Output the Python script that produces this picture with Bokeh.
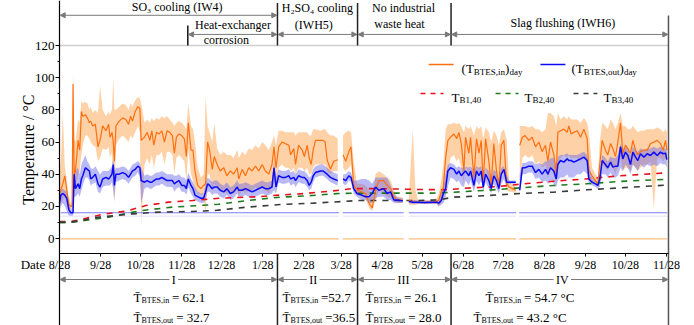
import math
from bokeh.plotting import figure
from bokeh.models import (Range1d, FixedTicker, LinearAxis, Label, Arrow,
                          NormalHead)
from bokeh.embed import file_html
from bokeh.resources import INLINE

nan = float("nan")
FONT = "Liberation Serif"

# ------------------------------------------------------------------ data
# days since 8/28 (first year)
days = [0, 1, 2.5, 4, 5.5, 7, 8.5, 9.5, 10.2, 11,
        12, 14, 15.2, 16.5, 17.5, 19.5, 21, 22.5, 23.5, 25,
        27, 29, 30.5, 32.5, 35, 37, 38, 39.5, 40.5, 41.3,
        42.5, 45, 47.5, 50, 52, 53.5, 55, 57, 59, 60.5,
        61.5, 64, 66, 68, 69.5, 71, 73, 75, 77, 79,
        81, 83, 85, 86.5, 88, 90, 92, 94, 95.5, 97,
        99, 100.5, 102, 104, 106.5, 108.5, 110, 111.5, 113, 115,
        116.5, 118.7, 121, 123.7, 126, 128.7, 131, 133.8, 135, 137.5,
        140, 142.5, 145, 147.6, 150, 152.6, 155, 157.6, 160, 161.5,
        163, 165, 167.5, 170, 172.7, 174, 176.4, 177.7, 180, 182.7,
        184.4, 186.5, 188, 189.5, 191, 192.7, 196.5, 198.5, 200, 201.5,
        204, 206.5, 209.5, 211, 213.5, 215.5, 217.8, 219.5, 221.5, 224,
        227.5, 230.5, 233, 235.4, 238, 240.4, 244, 246.7, 249.3, 251.7,
        254, 256.7, 258.5, 260.5, 263, 266, 268, 270, 275, 280,
        284, 285.6, 287.4, 289, 290.7, 292.4, 294.4, 297, 299, 300.7,
        302.5, 304.5, 305.7, 308.2, 309.5, 312, 314, 315.8, 317.5, 319,
        320.8, 323.3, 325, 327, 329, 330.8, 332.6, 334.6, 336.6, 338.5,
        341, 343.5, 345, 346.5, 348.5, 350.5, 353.4, 355.9, 358.4, 360.9,
        363.4, 365.9, 367.7, 369.7, 372.2, 374, 375.2, 377.2, 379.7, 382.2,
        383.5, 385.2, 387.2, 389.8, 392.3, 394.8, 397.3, 398.5, 401, 403.6,
        405.3, 406.8, 408.6, 411, 412.8, 414.9, 416.6, 418.6, 420.4, 422.4,
        424.1, 426.1, 427.9, 429.9, 431.7, 433.7, 435.4, 437.4, 440, 442.5,
        445, 447.5, 450, 452.5, 454.5, 456.3, 457.3]

# (T_BTES,in)_day and its daily range
t_in = [28, 30, 34, 39, 30, 21, 20, 20, 96, 40,
        42, 61, 55, 79, 76, 77, 75, 72, 73, 70,
        71, 57, 61, 70, 67, 71, 63, 66, 60, 48,
        70, 73, 75, 74, 71, 76, 73, 79, 82, 81,
        61, 63, 66, 61, 67, 58, 66, 65, 67, 60,
        67, 66, 64, 53, 63, 65, 64, 62, 51, 72,
        55, 55, 42, 33, 31, 33, 34, 60, 55, 43,
        51, 46, 42, 44, 39, 42, 40, 44, 37, 43,
        39, 44, 42, 45, 42, 46, 42, 40, 46, 57,
        44, 57, 60, 59, 58, 52, 56, 46, 58, 55,
        51, 58, 50, 46, 55, 61, 61, 61, 60, 49,
        43, 48, 49, nan, 52, 48, 54, 57, 33, 30,
        29, 28, 22, 19, 30, 36, 36, 33, 31, 26,
        24, 24, 23.5, nan, 23.5, 23, 22.8, 22.6, 22.5, 22.6,
        23, 24, 29, 32, 50, 61, 63, 65, 62, 66,
        59, 42, 63, 53, 63, 38, 62, 53, 61, 34,
        62, 48, 33, 59, 42, 33, 58, 61, 34, 32,
        31, 30, nan, 58, 63, 64, 61, 63, 57, 60,
        54, 58, 48, 60, 52, 40, 66, 67, 68, 66,
        70, 65, 66, 67, 63, 68, 62, 42, 39, 36,
        34, 46, 61, 55, 52, 59, 56, 51, 60, 72,
        53, 58, 56, 53, 61, 55, 52, 54, 55, 55,
        59, 60, 61, 59, 55, 61, 55]
t_in_lo = [20, 22, 24, 26, 22, 18, 18, 18, 20, 30,
           32, 40, 42, 52, 58, 64, 64, 62, 60, 58,
           57, 48, 50, 56, 55, 57, 50, 54, 30, 22,
           58, 62, 64, 62, 60, 64, 62, 66, 70, 66,
           8, 46, 50, 46, 52, 44, 52, 52, 54, 46,
           54, 54, 52, 40, 50, 52, 50, 48, 36, 55,
           40, 36, 30, 28, 27, 28, 14, 40, 40, 30,
           34, 32, 30, 30, 28, 28, 28, 30, 26, 30,
           28, 30, 30, 32, 30, 32, 30, 28, 32, 36,
           34, 44, 46, 44, 44, 42, 44, 40, 44, 44,
           42, 44, 40, 40, 44, 46, 46, 46, 46, 42,
           40, 42, 42, nan, 44, 42, 44, 46, 30, 27,
           26, 25, 19, 17, 24, 30, 28, 26, 25, 24,
           22, 22, 22, nan, 21, 21, 21, 21.5, 21.5, 21.5,
           21.5, 20, 22, 24, 30, 40, 50, 52, 48, 50,
           44, 34, 46, 40, 46, 30, 44, 40, 44, 30,
           44, 36, 29, 40, 34, 29, 40, 44, 30, 29,
           29, 28, nan, 30, 50, 52, 50, 52, 46, 48,
           44, 46, 38, 44, 40, 34, 46, 50, 52, 50,
           52, 50, 50, 50, 48, 52, 46, 36, 35, 34,
           32, 34, 46, 44, 42, 46, 44, 40, 46, 50,
           42, 44, 44, 42, 46, 44, 42, 44, 46, 46,
           48, 18, 50, 50, 48, 50, 48]
t_in_hi = [40, 48, 78, 45, 36, 26, 22, 22, 104, 62,
           60, 74, 72, 86, 84, 85, 84, 80, 82, 78,
           80, 78, 95, 80, 76, 79, 77, 80, 100, 80,
           80, 82, 84, 83, 80, 84, 82, 86, 88, 87,
           84, 72, 74, 72, 75, 73, 75, 74, 76, 75,
           76, 74, 72, 70, 72, 73, 72, 70, 68, 84,
           70, 68, 60, 44, 38, 40, 88, 70, 66, 60,
           72, 56, 52, 54, 52, 52, 50, 55, 50, 54,
           52, 56, 55, 58, 56, 60, 58, 55, 60, 64,
           58, 67, 67, 66, 66, 66, 66, 64, 66, 66,
           66, 66, 64, 64, 68, 68, 67, 68, 68, 66,
           64, 64, 62, nan, 64, 66, 67, 66, 48, 34,
           34, 33, 30, 26, 40, 42, 40, 38, 36, 30,
           26, 26, 25, nan, 26, 68, 30, 24, 24, 24,
           25, 28, 36, 46, 68, 71, 71, 72, 71, 72,
           70, 66, 70, 68, 70, 64, 70, 68, 70, 62,
           69, 66, 60, 67, 64, 58, 66, 68, 62, 36,
           33, 32, nan, 70, 70, 70, 69, 70, 68, 68,
           66, 68, 78, 78, 76, 70, 78, 74, 76, 74,
           76, 74, 74, 74, 72, 75, 72, 66, 44, 40,
           38, 60, 72, 70, 68, 74, 72, 68, 72, 78,
           70, 70, 68, 68, 70, 68, 66, 67, 67, 68,
           68, 68, 69, 68, 66, 68, 66]

# (T_BTES,out)_day and its daily range
t_out = [22, 27, 28, 27, 25, 18, 16, 16, 16, 40,
         31, 34, 31, 37, 39, 44, 43, 42, 37, 38,
         40, 34, 32, 37, 38, 37, 38, 40, 46, 33,
         40, 40, 41, 40, 38, 40, 42, 43, 45, 44,
         36, 35, 36, 35, 35, 36, 37, 37, 38, 37,
         36, 36, 36, 34, 35, 36, 33, 33, 31, 37,
         33, 31, 27, 26, 25, 25, 29, 34, 33, 31,
         32, 32, 30, 29, 31, 28, 29, 32, 30, 30,
         31, 30, 29, 30, 31, 32, 31, 31, 32, 44,
         32, 39, 38, 38, 39, 37, 38, 36, 39, 38,
         38, 36, 33, 35, 39, 41, 42, 42, 41, 40,
         38, 37, 36, nan, 37, 36, 39, 38, 31, 28,
         27, 26, 26, 28, 32, 30, 31, 28, 29, 24,
         24, 23.6, 23.5, nan, 23, 22.6, 22.6, 22.6, 22.4, 22.6,
         22.5, 22, 23.6, 28, 31, 42, 44, 43, 40, 42,
         39, 41, 42, 39, 42, 33, 42, 39, 42, 32,
         40, 36, 31, 39, 36, 31, 40, 43, 35, 35,
         35, 35, nan, 30, 44, 44, 45, 45, 41, 43,
         40, 43, 40, 44, 42, 37, 46, 48.5, 47.5, 49.5,
         48.5, 48.5, 47.5, 48.5, 49.5, 50.6, 48.5, 37, 35, 34,
         33, 37, 48.5, 46, 44, 47.5, 44.4, 45, 45, 57,
         49.5, 53.7, 51.6, 46, 53.7, 50.6, 48.5, 52.7, 50.6, 52.7,
         51.6, 53.7, 51.6, 53.7, 52.7, 53, 49]
t_out_lo = [18, 20, 22, 20, 17, 14, 14, 14, 14, 26,
            26, 28, 26, 30, 33, 38, 38, 36, 33, 34,
            35, 29, 28, 32, 33, 33, 33, 35, 30, 24,
            35, 36, 37, 36, 34, 36, 38, 39, 41, 38,
            22, 31, 32, 31, 31, 32, 33, 33, 34, 33,
            32, 32, 32, 29, 31, 32, 29, 29, 27, 32,
            28, 26, 24, 23, 22, 22, 24, 29, 29, 27,
            28, 28, 26, 25, 27, 24, 25, 28, 26, 26,
            27, 26, 25, 26, 27, 28, 27, 27, 28, 30,
            28, 35, 34, 34, 35, 33, 34, 32, 35, 34,
            34, 32, 30, 31, 35, 38, 39, 39, 38, 37,
            35, 34, 33, nan, 34, 33, 36, 35, 28, 26,
            24, 24, 22, 22, 25, 26, 26, 24, 24, 22,
            22, 22, 22, nan, 22, 21.5, 21.5, 21.5, 21.5, 21.5,
            21.5, 20, 21, 22, 26, 32, 38, 37, 35, 36,
            33, 32, 36, 33, 36, 29, 36, 33, 36, 29,
            35, 31, 28, 34, 31, 28, 34, 37, 32, 34,
            34, 34, nan, 28, 40, 40, 41, 41, 37, 38,
            35, 36, 34, 36, 34, 32, 36, 38, 38, 40,
            38, 38, 38, 40, 40, 42, 40, 34, 33, 32,
            31, 32, 40, 40, 38, 41, 38, 38, 39, 44,
            42, 46, 44, 40, 46, 44, 42, 46, 44, 46,
            45, 46, 45, 47, 46, 46, 44]
t_out_hi = [28, 30, 31, 30, 29, 22, 18, 18, 26, 46,
            42, 44, 40, 46, 48, 52, 48, 46, 44, 43,
            45, 42, 40, 42, 42, 42, 43, 45, 50, 42,
            44, 44, 45, 44, 42, 44, 46, 47, 48, 47,
            44, 39, 40, 39, 39, 40, 41, 41, 42, 41,
            40, 40, 40, 39, 39, 40, 38, 38, 36, 41,
            37, 35, 32, 29, 28, 28, 34, 38, 37, 35,
            36, 36, 34, 33, 35, 32, 33, 36, 34, 34,
            35, 34, 33, 34, 35, 36, 35, 35, 36, 48,
            38, 43, 42, 42, 43, 41, 42, 40, 43, 42,
            42, 40, 38, 39, 43, 45, 46, 46, 45, 44,
            42, 41, 40, nan, 40, 40, 42, 41, 36, 36,
            37, 37, 36, 34, 38, 38, 38, 38, 33, 28,
            26, 25, 25, nan, 24, 24, 24, 23.5, 23.5, 23.5,
            23.5, 24, 28, 32, 40, 46, 47, 46, 44, 45,
            44, 44, 45, 44, 45, 42, 45, 44, 45, 40,
            44, 42, 38, 43, 41, 37, 44, 45, 40, 36,
            36, 36, nan, 40, 47, 47, 48, 48, 46, 47,
            46, 48, 48, 50, 50, 46, 51, 52, 52, 53,
            52, 52, 52, 52, 53, 54, 52, 46, 38, 36,
            35, 42, 52, 50, 48, 51, 50, 50, 52, 59,
            55, 57, 56, 52, 57, 55, 54, 56, 55, 56,
            56, 57, 56, 57, 56, 56, 54]

# borehole temperatures at 40 m
b1_days = [0, 8, 15, 32, 50, 65, 82, 100, 120, 150, 165, 185, 205, 220,
           240, 270, 290, 310, 330, 350, 372, 397, 422, 457]
b1_temp = [10.5, 10.5, 11.5, 15, 17, 20.5, 22.6, 23.6, 25, 26, 27, 28, 29.5,
           31, 31, 30.5, 30.3, 31.5, 32.3, 34, 35.6, 37.1, 39, 40.8]
b2_days = [0, 8, 15, 35, 50, 62, 85, 105, 120, 141, 166, 190, 210, 230,
           280, 297, 322, 347, 372, 397, 422, 457]
b2_temp = [10, 10, 10.8, 13, 15.5, 17.4, 19.5, 20.5, 21.3, 23.6, 25.7, 26.7,
           28, 28.2, 28.2, 28.8, 30, 31.5, 33, 34, 35.5, 36.8]
b3_days = [0, 8, 30, 55, 75, 100, 117, 141, 166, 191, 204, 225, 267, 285,
           297, 322, 347, 372, 397, 422, 457]
b3_temp = [10, 10, 13.3, 15.3, 16.4, 16.8, 17.4, 19.5, 21.1, 22, 22.6, 23.6,
           23.6, 24, 25.7, 26.7, 28, 28.8, 30.3, 31.5, 33.2]

# flat auxiliary traces (with the same data gaps)
flat_start = [1, 213.3, 263, 346.1]
flat_end = [210.3, 259.2, 343.8, 457.5]
flat_level_blue = 16.0
flat_level_lav = 13.9
flat_level_orange = -0.2

# x axis
date_ticks = [0, 31, 61, 92, 122, 153, 184, 212, 243, 273, 304, 334, 365,
              396, 426, 457]
date_labels = ["8/28", "9/28", "10/28", "11/28", "12/28", "1/28", "2/28",
               "3/28", "4/28", "5/28", "6/28", "7/28", "8/28", "9/28",
               "10/28", "11/28"]
y_ticks = [0, 20, 40, 60, 80, 100, 120]
y_minor = [10, 30, 50, 70, 90, 110]

# periods
phase_edges = [0, 164.1, 224.4, 294.8, 458.5]
phase_names = ["I", "II", "III", "IV"]
mean_in = [62.1, 52.7, 26.1, 54.7]
mean_out = [32.7, 36.5, 28.0, 43.2]
heat_exchanger_start = 96.6

# ------------------------------------------------------------------ style
ORANGE = "#ff6f0f"
ORANGE_BAND = "#ffb36b"
BLUE = "#0b0bf5"
BLUE_BAND = "#6464e8"
GRAY = "#7a7a7a"

W_PX, H_PX = 690, 325
PX_PER_DAY = 1.3282
AXIS_PX = 59
X_LO = -AXIS_PX / PX_PER_DAY
X_HI = (W_PX - AXIS_PX) / PX_PER_DAY
Y_LO, Y_HI = -54.1, 148.0

p = figure(width=W_PX, height=H_PX, x_range=Range1d(X_LO, X_HI),
           y_range=Range1d(Y_LO, Y_HI), output_backend="svg",
           toolbar_location=None, x_axis_location=None, y_axis_location=None,
           min_border_left=0, min_border_right=0, min_border_top=0,
           min_border_bottom=0)
p.grid.visible = False
p.outline_line_color = None
p.background_fill_color = "white"

# temperature axis, fixed at day 0
ya = LinearAxis(fixed_location=0, bounds=(Y_LO - 5, Y_HI + 5),
                ticker=FixedTicker(ticks=y_ticks, minor_ticks=y_minor))
ya.major_label_text_font = FONT
ya.major_label_text_font_size = "13px"
ya.major_label_text_color = "black"
ya.major_tick_out = 4
ya.major_tick_in = 0
ya.minor_tick_out = 2
ya.minor_tick_in = 0
ya.major_label_standoff = 1
ya.axis_line_color = "black"
ya.axis_line_width = 1.2
p.add_layout(ya, "left")

# date axis, drawn inside the frame
xa = LinearAxis(fixed_location=-9.1, bounds=(phase_edges[0], phase_edges[-1]),
                ticker=FixedTicker(ticks=date_ticks, minor_ticks=[]),
                major_label_overrides={t: l for t, l in zip(date_ticks, date_labels)})
xa.major_label_text_font = FONT
xa.major_label_text_font_size = "12px"
xa.major_label_text_color = "black"
xa.major_tick_out = 3
xa.major_tick_in = 0
xa.major_label_standoff = 2
xa.axis_line_color = "black"
xa.axis_line_width = 1.2
p.add_layout(xa, "below")

# 120 reference line
p.segment(x0=[phase_edges[0]], x1=[phase_edges[-1]], y0=[120], y1=[120],
          line_color="#cfcfcf", line_width=1.5)


def runs(x, lo, hi):
    out, cur = [], []
    for xi, a, b in zip(x, lo, hi):
        if math.isnan(a):
            if cur:
                out.append(cur)
            cur = []
        else:
            cur.append((xi, a, b))
    if cur:
        out.append(cur)
    return out


for seg in runs(days, t_in_lo, t_in_hi):
    p.varea(x=[s[0] for s in seg], y1=[s[1] for s in seg],
            y2=[s[2] for s in seg], fill_color=ORANGE_BAND, fill_alpha=0.6)
for seg in runs(days, t_out_lo, t_out_hi):
    p.varea(x=[s[0] for s in seg], y1=[s[1] for s in seg],
            y2=[s[2] for s in seg], fill_color=BLUE_BAND, fill_alpha=0.45)

# flat traces
p.segment(x0=flat_start, x1=flat_end, y0=[flat_level_lav] * 4,
          y1=[flat_level_lav] * 4, line_color="#e2e0f8", line_width=1)
p.segment(x0=flat_start, x1=flat_end, y0=[flat_level_blue] * 4,
          y1=[flat_level_blue] * 4, line_color="#7c7cf2", line_width=1.2)
p.segment(x0=flat_start, x1=flat_end, y0=[flat_level_orange] * 4,
          y1=[flat_level_orange] * 4, line_color="#ffbd80", line_width=1.2)

DASH = "6 6"
p.line(b1_days, b1_temp, line_color="#e8101a", line_width=1.6, line_dash=DASH)
p.line(b2_days, b2_temp, line_color="#1e7a1e", line_width=1.6, line_dash=DASH)
p.line(b3_days, b3_temp, line_color="#3a3a3a", line_width=1.6, line_dash=DASH)

p.line(days, t_in, line_color=ORANGE, line_width=1.2)
p.line(days, t_out, line_color=BLUE, line_width=1.5)

# ------------------------------------------------------------------ frame lines
top_y0, top_y1 = 120, 146.5
bot_y0, bot_y1 = -9.1, Y_LO
inner = phase_edges[1:-1]
p.segment(x0=inner, x1=inner, y0=[top_y0] * 3, y1=[top_y1] * 3,
          line_color="#222222", line_width=1.5)
p.segment(x0=inner, x1=inner, y0=[bot_y0] * 3, y1=[bot_y1] * 3,
          line_color="#222222", line_width=1.5)
p.segment(x0=[heat_exchanger_start], x1=[heat_exchanger_start], y0=[120],
          y1=[132.5], line_color="#111111", line_width=1.5)
p.segment(x0=[phase_edges[-1]], x1=[phase_edges[-1]], y0=[138.7], y1=[bot_y1],
          line_color="#555555", line_width=1.5)

# ------------------------------------------------------------------ text helpers
W = {" ": .25, "(": .333, ")": .333, "=": .564, ".": .25, ",": .25,
     "A": .722, "B": .667, "C": .667, "D": .722, "E": .611, "H": .722,
     "I": .333, "O": .722, "S": .556, "T": .611, "W": .944, "a": .444,
     "d": .5, "e": .444, "i": .278, "n": .5, "o": .5, "t": .278, "u": .5,
     "y": .5, "\u00b0": .4, "l": .278, "c": .444, "g": .5, "r": .333,
     "s": .389, "h": .5, "\u0304": 0.0}


def tw(s, size):
    w = sum(W.get(c, 0.5) for c in s) * size
    return w * 1.08 + 0.5 if size <= 8 else w


def rich(x, y, parts):
    off = 0.0
    for txt, size, dy in parts:
        p.add_layout(Label(x=x, y=y, x_offset=off, y_offset=dy, text=txt,
                           text_font=FONT, text_font_size=f"{size}px",
                           text_baseline="alphabetic", text_align="left",
                           text_color="black"))
        off += tw(txt, size)


def text(x, y, s, size=12, align="center", bg=None, angle=0.0):
    p.add_layout(Label(x=x, y=y, text=s, text_font=FONT,
                       text_font_size=f"{size}px", text_align=align,
                       text_baseline="middle", text_color="black",
                       background_fill_color=bg, angle=angle))


def darrow(x0, x1, y):
    p.add_layout(Arrow(start=NormalHead(size=5, fill_color=GRAY, line_color=GRAY),
                       end=NormalHead(size=5, fill_color=GRAY, line_color=GRAY),
                       x_start=x0, y_start=y, x_end=x1, y_end=y,
                       line_color=GRAY, line_width=1))


# top annotations
darrow(phase_edges[0] + 0.5, phase_edges[1] - 0.5, 138.8)
darrow(heat_exchanger_start + 0.5, phase_edges[1] - 0.5, 126.9)
darrow(phase_edges[1] + 0.5, phase_edges[2] - 0.5, 126.9)
darrow(phase_edges[2] + 0.5, phase_edges[3] - 0.5, 126.9)
darrow(phase_edges[3] + 0.5, phase_edges[4] - 0.5, 126.9)
text(88.6, 143.9, "SO\u2083 cooling (IW4)")
text(130.6, 132.6, "Heat-exchanger")
text(125.7, 123.2, "corrosion")
text(194.2, 143.6, "H\u2082SO\u2084 cooling")
text(191.5, 132.6, "(IWH5)")
text(259.0, 143.6, "No industrial")
text(256.0, 133.4, "waste heat")
text(379.0, 134.3, "Slag flushing (IWH6)")

# axis titles
text(-23.3, 55.3, "Temperature / \u00b0C", size=16, angle=math.pi / 2)
text(-20.0, -16.2, "Date", size=13)

# period arrows and statistics
name_x = [86.0, 191.0, 259.0, 378.5]
for i in range(4):
    darrow(phase_edges[i] + 0.5, phase_edges[i + 1] - 0.5, -25.5)
    text(name_x[i], -25.5, "\u2009" + phase_names[i] + "\u2009", size=12, bg="white")

TB = "T\u0304"
stat_x_in = [55.7, 167.9, 230.4, 320.7]
stat_x_out = [55.7, 167.9, 230.4, 311.7]
fmt_in = [" = {:.1f}", "={:.1f}", " = {:.1f}", " = {:.1f} \u00b0C"]
fmt_out = [" = {:.1f}", "={:.1f}", "= {:.1f}", " = {:.1f} \u00b0C"]
for i in range(4):
    rich(stat_x_in[i], -36.7, [(TB, 13, 0), ("BTES,in", 8, -3),
                               (fmt_in[i].format(mean_in[i]), 13, 0)])
    rich(stat_x_out[i], -49.1, [(TB, 13, 0), ("BTES,out", 8, -3),
                                (fmt_out[i].format(mean_out[i]), 13, 0)])

# ------------------------------------------------------------------ legend
leg_y1, leg_y2 = 108.2, 90.2
p.segment(x0=[277.9], x1=[296.7], y0=[leg_y1], y1=[leg_y1],
          line_color=ORANGE, line_width=1.5)
p.segment(x0=[362.1], x1=[380.9], y0=[leg_y1], y1=[leg_y1],
          line_color=BLUE, line_width=1.5)
p.segment(x0=[271.8], x1=[289.1], y0=[leg_y2], y1=[leg_y2],
          line_color="#e8101a", line_width=1.6, line_dash="5 5")
p.segment(x0=[328.3], x1=[345.6], y0=[leg_y2], y1=[leg_y2],
          line_color="#1e7a1e", line_width=1.6, line_dash="5 5")
p.segment(x0=[387.0], x1=[405.0], y0=[leg_y2], y1=[leg_y2],
          line_color="#3a3a3a", line_width=1.6, line_dash="5 5")
rich(302.7, 105.7, [("(T", 13, 0), ("BTES,in", 9, -3), (")", 13, 0), ("day", 9, -3)])
rich(385.5, 105.7, [("(T", 13, 0), ("BTES,out", 9, -3), (")", 13, 0), ("day", 9, -3)])
rich(295.1, 87.7, [("T", 13, 0), ("B1,40", 9, -3)])
rich(350.1, 87.7, [("T", 13, 0), ("B2,40", 9, -3)])
rich(409.6, 87.7, [("T", 13, 0), ("B3,40", 9, -3)])

open("out.html", "w").write(file_html(p, INLINE))
